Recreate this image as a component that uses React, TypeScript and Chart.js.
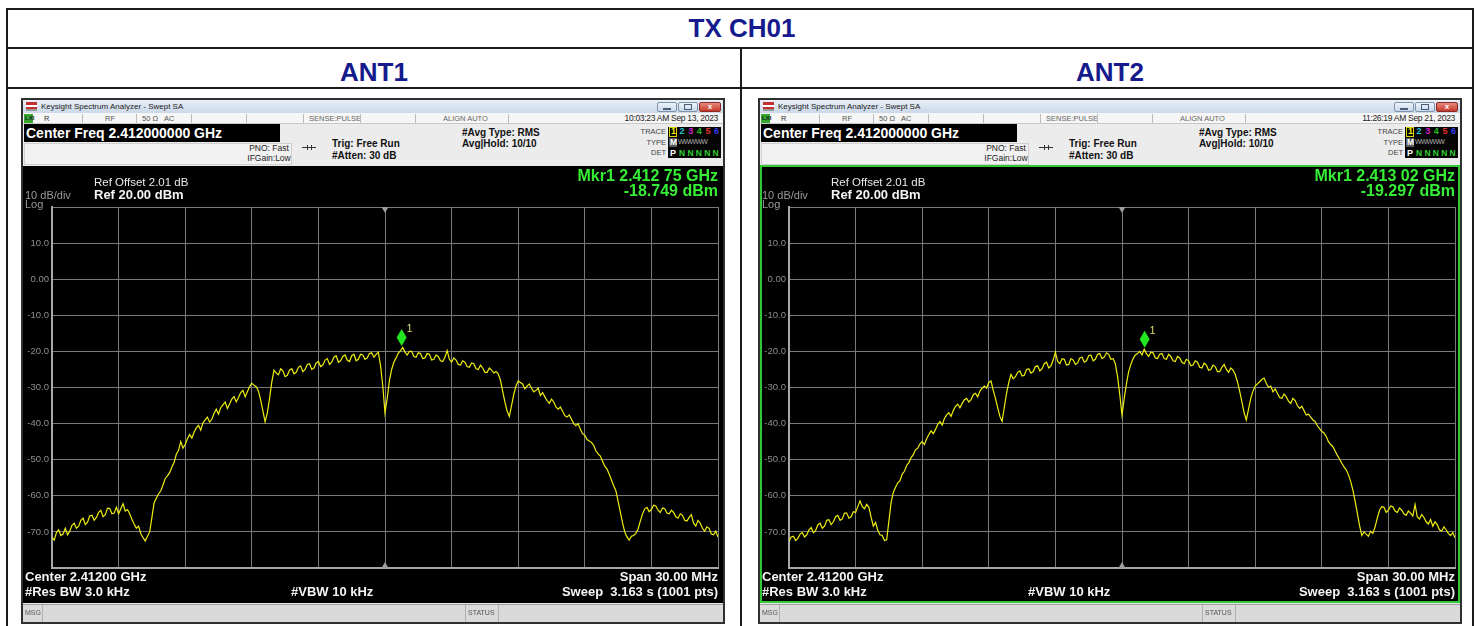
import React, { useEffect, useRef } from "react";
import { Chart, registerables } from "chart.js";
Chart.register(...registerables);

// ---------------- data ----------------
const CENTER_GHZ = 2.412;
const SPAN_START_MHZ = -15; // offset from centre frequency
const SWEEP_STEP_MHZ = 0.1;
const LEVEL_MIN = -80;
const LEVEL_MAX = 20;
const LEVEL_STEP = 10;
const FREQ_GRID_STEP = 3;
const Y_TICK_LABELS = ["", "10.0", "0.00", "-10.0", "-20.0", "-30.0", "-40.0", "-50.0", "-60.0", "-70.0", ""];

// one row = 1 MHz (10 sweep points), from -15 MHz to +15 MHz around the centre
const ANT1_TRACE = [
  -71.5, -72.3, -70.2, -69.4, -71.0, -70.6, -69.0, -70.8, -69.8, -68.2,
  -67.6, -69.0, -68.4, -66.8, -66.2, -68.0, -67.3, -65.6, -65.4, -66.8,
  -66.0, -64.6, -64.0, -65.8, -65.2, -63.4, -63.5, -65.0, -64.8, -63.2,
  -65.0, -63.6, -62.2, -64.2, -63.8, -65.0, -66.5, -67.8, -69.0, -68.4,
  -70.5, -71.6, -72.5, -71.2, -70.0, -66.0, -62.0, -60.6, -59.5, -58.6,
  -57.0, -55.2, -54.5, -53.6, -52.0, -50.8, -48.5, -47.4, -45.0, -46.8,
  -45.8, -44.2, -43.0, -44.0, -42.4, -41.2, -40.5, -41.8, -39.8, -39.0,
  -38.2, -39.6, -38.8, -37.2, -36.0, -37.4, -35.6, -34.8, -34.0, -35.8,
  -34.6, -33.2, -32.5, -34.0, -32.8, -31.4, -30.8, -32.6, -31.2, -29.8,
  -28.8, -29.4, -29.8, -31.0, -33.5, -36.5, -39.5, -37.0, -33.0, -28.5,
  -25.2, -26.0, -26.5, -24.8, -25.4, -27.0, -26.6, -25.2, -24.8, -26.2,
  -25.8, -24.4, -24.0, -25.6, -25.0, -23.6, -23.4, -25.0, -24.6, -23.2,
  -22.8, -24.2, -23.8, -22.4, -22.0, -23.6, -23.0, -21.6, -21.2, -23.0,
  -22.6, -21.4, -21.0, -22.4, -22.8, -21.2, -20.8, -22.6, -22.2, -20.8,
  -21.0, -22.2, -21.8, -20.6, -20.4, -21.6, -20.8, -20.2, -24.0, -29.5,
  -37.0, -33.0, -28.0, -25.0, -23.0, -21.8, -20.5, -19.8, -18.9, -20.2,
  -21.0, -20.0, -20.0, -21.4, -21.6, -20.4, -20.6, -22.0, -21.8, -20.6,
  -20.8, -22.4, -22.2, -21.0, -21.4, -22.6, -22.8, -21.6, -19.8, -22.2,
  -23.0, -21.8, -22.4, -23.6, -23.8, -22.6, -23.0, -24.2, -24.4, -23.2,
  -23.4, -24.8, -25.0, -23.8, -24.6, -25.8, -25.8, -24.6, -25.2, -26.0,
  -25.6, -26.2, -28.0, -31.0, -34.0, -36.5, -38.0, -35.0, -32.0, -29.6,
  -28.2, -28.6, -29.0, -30.4, -29.6, -29.0, -30.2, -31.2, -30.8, -30.2,
  -32.2, -31.4, -32.6, -33.6, -34.4, -33.2, -34.0, -35.4, -36.0, -35.4,
  -36.6, -37.8, -38.2, -37.6, -38.8, -40.0, -40.6, -40.0, -41.6, -42.8,
  -43.2, -44.4, -44.8, -45.2, -46.0, -47.6, -48.4, -49.0, -50.4, -51.8,
  -52.6, -54.0, -55.6, -57.2, -58.6, -61.5, -64.5, -67.5, -70.0, -71.4,
  -72.3, -71.2, -71.0, -70.4, -69.2, -67.0, -65.0, -63.6, -63.2, -64.4,
  -63.8, -62.6, -62.8, -64.0, -64.6, -63.4, -63.6, -64.8, -65.0, -64.0,
  -64.6, -65.8, -66.2, -65.0, -65.4, -66.8, -67.0, -66.0, -65.2, -67.6,
  -68.4, -66.8, -67.6, -69.0, -69.8, -68.6, -69.0, -70.6, -70.8, -69.8,
  -71.4,
];

const ANT2_TRACE = [
  -72.6, -71.4, -71.2, -72.4, -71.8, -70.6, -70.2, -71.4, -70.8, -69.4,
  -68.8, -70.2, -69.6, -68.0, -67.6, -69.0, -68.4, -66.8, -66.6, -68.0,
  -67.2, -65.8, -65.4, -66.8, -66.4, -64.8, -64.8, -66.2, -65.8, -64.4,
  -64.6, -63.0, -61.4, -63.0, -63.6, -62.4, -63.2, -66.0, -68.4, -67.4,
  -69.6, -70.8, -71.0, -72.4, -72.2, -67.0, -61.8, -59.0, -57.6, -56.4,
  -55.8, -54.0, -53.2, -51.6, -50.8, -49.4, -48.6, -47.2, -46.8, -45.6,
  -45.0, -45.8, -44.2, -43.0, -42.0, -42.8, -41.6, -40.2, -39.4, -40.4,
  -38.6, -37.6, -37.0, -38.0, -36.4, -35.2, -34.6, -35.6, -34.4, -33.4,
  -33.0, -34.0, -33.4, -32.0, -31.6, -32.6, -31.0, -30.2, -29.6, -30.2,
  -28.6, -28.2, -30.8, -33.0, -35.6, -38.0, -39.4, -35.4, -31.6, -28.6,
  -26.4, -27.6, -27.0, -25.8, -25.4, -26.8, -26.6, -25.0, -24.8, -26.0,
  -25.6, -24.2, -24.0, -25.4, -24.8, -23.4, -23.0, -24.6, -24.0, -22.4,
  -20.2, -22.8, -23.4, -22.0, -22.2, -23.8, -23.6, -22.0, -22.4, -23.6,
  -23.2, -21.8, -21.6, -23.0, -22.6, -21.2, -21.0, -22.6, -22.2, -20.8,
  -20.6, -22.0, -21.6, -20.4, -20.8, -22.2, -22.0, -23.4, -27.0, -32.0,
  -37.6, -33.0, -29.0, -25.6, -23.6, -22.0, -21.0, -20.6, -20.0, -21.0,
  -19.4, -20.6, -21.4, -20.2, -20.4, -21.8, -22.0, -20.8, -20.6, -22.0,
  -22.2, -20.8, -21.4, -22.6, -22.8, -21.4, -21.8, -23.0, -23.4, -22.2,
  -22.6, -24.0, -23.8, -22.6, -23.0, -24.4, -24.6, -23.2, -23.8, -25.2,
  -25.0, -23.8, -24.2, -25.6, -25.6, -24.4, -23.6, -25.0, -25.8, -24.6,
  -25.2, -26.4, -28.4, -31.0, -34.0, -37.0, -39.0, -36.0, -33.0, -31.0,
  -29.6, -29.0, -28.4, -27.8, -27.4, -28.8, -30.0, -29.6, -31.2, -30.4,
  -31.6, -32.8, -33.0, -31.8, -32.6, -33.8, -34.4, -33.0, -33.6, -35.0,
  -35.8, -35.2, -36.4, -37.6, -37.4, -38.2, -39.0, -39.4, -40.6, -41.4,
  -42.2, -42.6, -43.6, -45.0, -45.8, -46.4, -47.6, -48.8, -49.8, -51.0,
  -52.0, -52.8, -54.2, -56.0, -58.4, -61.5, -64.8, -68.2, -71.0, -70.0,
  -70.6, -71.2, -69.8, -70.4, -68.6, -66.2, -64.0, -63.0, -63.2, -64.6,
  -64.0, -62.8, -63.0, -64.2, -64.6, -63.4, -64.0, -65.0, -65.4, -64.2,
  -64.8, -65.6, -62.4, -65.8, -66.4, -65.2, -66.0, -67.2, -67.8, -66.6,
  -68.4, -67.2, -68.0, -69.4, -69.8, -68.6, -69.4, -70.4, -71.0, -70.2,
  -71.6,
];

const ANT1_MARKER = { freqMHz: 0.75, level: -18.749, label: "Mkr1 2.412 75 GHz", levelText: "-18.749 dBm" };
const ANT2_MARKER = { freqMHz: 1.02, level: -19.297, label: "Mkr1 2.413 02 GHz", levelText: "-19.297 dBm" };
const ANT1_TIME = "10:03:23 AM Sep 13, 2023";
const ANT2_TIME = "11:26:19 AM Sep 21, 2023";

// ---------------- styles ----------------
const SANS = '"Liberation Sans", Arial, sans-serif';
const NAVY = "#151a8c";
const TRACE_COLOR = "#eeee10";
const GRID_COLOR = "#7a7a7a";
const GRID_BORDER = "#a8a8a8";
const MKR_GREEN = "#35ee35";

type TProps = { x: number; y: number; s: number; c?: string; b?: boolean; a?: "l" | "r" | "c"; f?: string; ls?: number; children?: any };
const T = ({ x, y, s, c = "#000", b = false, a = "l", f = SANS, ls = 0, children }: TProps) => (
  <div
    style={{
      position: "absolute",
      left: x,
      top: y - s * 0.6,
      fontSize: s,
      lineHeight: `${s * 1.2}px`,
      fontWeight: b ? 700 : 400,
      color: c,
      fontFamily: f,
      whiteSpace: "nowrap",
      letterSpacing: ls,
      transform: a === "r" ? "translateX(-100%)" : a === "c" ? "translateX(-50%)" : undefined,
    }}
  >
    {children}
  </div>
);

const Box = ({ l, t, w, h, style }: { l: number; t: number; w: number; h: number; style?: any }) => (
  <div style={{ position: "absolute", left: l, top: t, width: w, height: h, boxSizing: "border-box", ...style }} />
);

const markerPlugin = {
  id: "mkr",
  afterDatasetsDraw(chart: any, _args: any, opts: any) {
    const { ctx, chartArea: a, scales } = chart;
    const x = scales.x;
    const y = scales.y;
    const cx = x.getPixelForValue(0);
    ctx.save();
    ctx.fillStyle = "#9c9c9c";
    ctx.beginPath();
    ctx.moveTo(cx - 3.5, a.top);
    ctx.lineTo(cx + 3.5, a.top);
    ctx.lineTo(cx, a.top + 6);
    ctx.closePath();
    ctx.fill();
    ctx.beginPath();
    ctx.moveTo(cx - 3.5, a.bottom);
    ctx.lineTo(cx + 3.5, a.bottom);
    ctx.lineTo(cx, a.bottom - 6);
    ctx.closePath();
    ctx.fill();
    const m = opts.marker;
    if (m) {
      const mx = x.getPixelForValue(m.freqMHz);
      const my = y.getPixelForValue(m.level);
      ctx.fillStyle = "#22e622";
      ctx.beginPath();
      ctx.moveTo(mx, my - 1);
      ctx.lineTo(mx + 5, my - 9.5);
      ctx.lineTo(mx, my - 18);
      ctx.lineTo(mx - 5, my - 9.5);
      ctx.closePath();
      ctx.fill();
      ctx.fillStyle = "#e0e070";
      ctx.font = "10px " + SANS;
      ctx.fillText("1", mx + 5, my - 15);
    }
    ctx.restore();
  },
};

function Spectrum({ values, marker, left, top }: { values: number[]; marker: any; left: number; top: number }) {
  const ref = useRef<HTMLCanvasElement>(null);
  useEffect(() => {
    const pts = values.map((v, i) => ({ x: SPAN_START_MHZ + i * SWEEP_STEP_MHZ, y: v }));
    const chart = new Chart(ref.current as HTMLCanvasElement, {
      type: "line",
      data: {
        datasets: [
          { data: pts, borderColor: TRACE_COLOR, borderWidth: 1.2, pointRadius: 0, tension: 0, fill: false },
        ],
      },
      options: {
        animation: false,
        responsive: false,
        maintainAspectRatio: false,
        events: [],
        layout: { padding: { left: 0, top: 41, right: 5, bottom: 35 } },
        plugins: { legend: { display: false }, tooltip: { enabled: false }, mkr: { marker } } as any,
        scales: {
          x: {
            type: "linear",
            min: SPAN_START_MHZ,
            max: -SPAN_START_MHZ,
            ticks: { display: false, stepSize: FREQ_GRID_STEP },
            grid: { color: GRID_COLOR, drawTicks: false, lineWidth: 1 },
            border: { color: GRID_BORDER, width: 2 },
            afterFit: (s: any) => {
              s.height = 0;
            },
          },
          y: {
            min: LEVEL_MIN,
            max: LEVEL_MAX,
            ticks: {
              stepSize: LEVEL_STEP,
              color: "#8e8e8e",
              font: { size: 9.5, family: SANS },
              padding: 3,
              callback: (v: any) => Y_TICK_LABELS[Math.round((LEVEL_MAX - Number(v)) / LEVEL_STEP)] ?? "",
            },
            grid: { color: GRID_COLOR, drawTicks: false, lineWidth: 1 },
            border: { color: GRID_BORDER, width: 2 },
            afterFit: (s: any) => {
              s.width = 29;
            },
          },
        },
      },
      plugins: [markerPlugin as any],
    });
    return () => chart.destroy();
  }, []);
  return (
    <canvas
      ref={ref}
      width={700}
      height={437}
      style={{ position: "absolute", left, top, width: 700, height: 437 }}
    />
  );
}

function Panel({ px, time, values, marker, green }: { px: number; time: string; values: number[]; marker: any; green?: boolean }) {
  const X = (d: number) => px + d;
  const traceCols = ["#f2f200", "#22c8d8", "#d020d0", "#22c022", "#e03030", "#3a3aee"];
  return (
    <>
      {/* window frame */}
      <Box l={X(0)} t={98} w={704} h={526} style={{ background: "#e4e8ee", border: "2px solid #303030" }} />
      {/* title bar */}
      <Box l={X(2)} t={100} w={700} h={13} style={{ background: "linear-gradient(#e9eff7,#cbd8e8)" }} />
      <Box l={X(5)} t={102} w={11} h={9} style={{ background: "linear-gradient(#c03030 0 30%, #ffffff 30% 55%, #c03030 55% 75%, #999 75%)" }} />
      <T x={X(20)} y={106.5} s={8} c="#1a1a1a">Keysight Spectrum Analyzer - Swept SA</T>
      <Box l={X(636)} t={102} w={20} h={10} style={{ background: "linear-gradient(#eef4fb,#c9d7ea)", border: "1px solid #7f93ad", borderRadius: 2 }} />
      <Box l={X(642)} t={108} w={8} h={2} style={{ background: "#4a5d78" }} />
      <Box l={X(657)} t={102} w={20} h={10} style={{ background: "linear-gradient(#eef4fb,#c9d7ea)", border: "1px solid #7f93ad", borderRadius: 2 }} />
      <Box l={X(663)} t={104} w={8} h={6} style={{ border: "1px solid #4a5d78" }} />
      <Box l={X(678)} t={102} w={22} h={10} style={{ background: "linear-gradient(#e88a7e,#c63a2c)", border: "1px solid #8a2a22", borderRadius: 2 }} />
      <T x={X(689)} y={107} s={8} c="#fff" b a="c">x</T>
      {/* status row */}
      <Box l={X(2)} t={113} w={700} h={11} style={{ background: "#f6f6f6", borderBottom: "1px solid #c8c8c8" }} />
      <Box l={X(3)} t={114} w={9} h={9} style={{ background: "#36a62a" }} />
      <T x={X(4)} y={118.5} s={6} c="#123" b>LXI</T>
      <T x={X(23)} y={118.5} s={7.5} c="#333">R</T>
      <T x={X(84)} y={118.5} s={7.5} c="#555">RF</T>
      <T x={X(121)} y={118.5} s={7.5} c="#555">50 Ω</T>
      <T x={X(143)} y={118.5} s={7.5} c="#555">AC</T>
      <T x={X(288)} y={118.5} s={7.5} c="#666">SENSE:PULSE</T>
      <T x={X(422)} y={118.5} s={7.5} c="#666">ALIGN AUTO</T>
      <T x={X(697)} y={118.5} s={8.5} c="#222" a="r" ls={-0.3}>{time}</T>
      {[61, 115, 170, 225, 282, 339, 394, 487].map((d) => (
        <Box key={d} l={X(d)} t={114} w={1} h={9} style={{ background: "#bcbcbc" }} />
      ))}
      {/* control area */}
      <Box l={X(2)} t={124} w={700} h={42} style={{ background: "#ececec" }} />
      <Box l={X(3)} t={143} w={268} h={22} style={{ background: "#f1f1f1", border: "1px solid #d0d0d0" }} />
      <Box l={X(3)} t={124} w={256} h={18} style={{ background: "#000" }} />
      <T x={X(5)} y={133.5} s={14} c="#fff" b>Center Freq 2.412000000 GHz</T>
      <T x={X(248)} y={148} s={8.5} c="#222" a="c">PNO: Fast</T>
      <T x={X(248)} y={158} s={8.5} c="#222" a="c">IFGain:Low</T>
      <Box l={X(281)} t={147} w={14} h={1} style={{ background: "#333" }} />
      <Box l={X(286)} t={145} w={1} h={5} style={{ background: "#333" }} />
      <Box l={X(290)} t={145} w={1} h={5} style={{ background: "#333" }} />
      <T x={X(311)} y={144} s={10} c="#111" b>Trig: Free Run</T>
      <T x={X(311)} y={156} s={10} c="#111" b>#Atten: 30 dB</T>
      <T x={X(441)} y={132.5} s={10} c="#111" b>#Avg Type: RMS</T>
      <T x={X(441)} y={143.5} s={10} c="#111" b>Avg|Hold: 10/10</T>
      <T x={X(645)} y={131} s={7.5} c="#444" a="r">TRACE</T>
      <T x={X(645)} y={142} s={7.5} c="#444" a="r">TYPE</T>
      <T x={X(645)} y={152.5} s={7.5} c="#444" a="r">DET</T>
      <Box l={X(647)} t={127} w={53} h={31} style={{ background: "#050505" }} />
      <Box l={X(648)} t={127} w={8} h={10} style={{ border: "1px solid #d6d600" }} />
      {traceCols.map((c, i) => (
        <T key={"t" + i} x={X(650 + i * 8.6)} y={131.5} s={9} c={c} b>{String(i + 1)}</T>
      ))}
      <Box l={X(648)} t={138} w={8} h={9} style={{ background: "#5a5a5a" }} />
      <T x={X(649)} y={142.5} s={8.5} c="#fff" b>M</T>
      <T x={X(657)} y={142.5} s={7} c="#aaa" ls={-0.8}>WWWWW</T>
      <T x={X(649)} y={153} s={9} c="#fff" b>P</T>
      {[0, 1, 2, 3, 4].map((i) => (
        <T key={"n" + i} x={X(658 + i * 8.4)} y={153} s={8.5} c="#30d030" b>N</T>
      ))}
      {/* display */}
      <Box l={X(2)} t={166} w={700} h={437} style={{ background: "#000" }} />
      <Spectrum values={values} marker={marker} left={X(2)} top={166} />
      {green && <Box l={X(2)} t={165} w={700} h={438} style={{ border: "2px solid #33c733" }} />}
      <T x={X(73)} y={183} s={11.5} c="#e8e8e8">Ref Offset 2.01 dB</T>
      <T x={X(73)} y={195} s={13} c="#f4f4f4" b>Ref 20.00 dBm</T>
      <T x={X(4)} y={196} s={11} c="#9a9a9a">10 dB/div</T>
      <T x={X(4)} y={205} s={11} c="#9a9a9a">Log</T>
      <T x={X(697)} y={176} s={16} c={MKR_GREEN} b a="r">{marker.label}</T>
      <T x={X(697)} y={191} s={16} c={MKR_GREEN} b a="r">{marker.levelText}</T>
      <T x={X(4)} y={577} s={13} c="#f4f4f4" b>{`Center ${CENTER_GHZ.toFixed(5)} GHz`}</T>
      <T x={X(4)} y={592} s={13} c="#f4f4f4" b>#Res BW 3.0 kHz</T>
      <T x={X(270)} y={592} s={13} c="#f4f4f4" b>#VBW 10 kHz</T>
      <T x={X(697)} y={577} s={13} c="#f4f4f4" b a="r">Span 30.00 MHz</T>
      <T x={X(697)} y={592} s={13} c="#f4f4f4" b a="r">{"Sweep\u00a0\u00a03.163 s (1001 pts)"}</T>
      {/* msg bar */}
      <Box l={X(2)} t={604} w={700} h={18} style={{ background: "#dadada", borderTop: "1px solid #a0a0a0" }} />
      <T x={X(4)} y={613} s={7} c="#555">MSG</T>
      <Box l={X(21)} t={605} w={1} h={17} style={{ background: "#b0b0b0" }} />
      <Box l={X(444)} t={605} w={1} h={17} style={{ background: "#b0b0b0" }} />
      <T x={X(447)} y={613} s={7} c="#555">STATUS</T>
      <Box l={X(477)} t={605} w={1} h={17} style={{ background: "#b0b0b0" }} />
    </>
  );
}

export default function App() {
  const line = "#1b1b1b";
  return (
    <div style={{ position: "absolute", left: 0, top: 0, width: 1475, height: 626, background: "#fff", overflow: "hidden" }}>
      {/* table grid */}
      <Box l={6} t={8} w={1468} h={2} style={{ background: line }} />
      <Box l={6} t={47} w={1468} h={2} style={{ background: line }} />
      <Box l={6} t={87} w={1468} h={2} style={{ background: line }} />
      <Box l={6} t={8} w={2} h={618} style={{ background: line }} />
      <Box l={740} t={47} w={2} h={579} style={{ background: line }} />
      <Box l={1472} t={8} w={2} h={618} style={{ background: line }} />
      <T x={742} y={29} s={26} c={NAVY} b a="c">TX CH01</T>
      <T x={374} y={73} s={26} c={NAVY} b a="c">ANT1</T>
      <T x={1110} y={73} s={26} c={NAVY} b a="c">ANT2</T>
      <Panel px={21} time={ANT1_TIME} values={ANT1_TRACE} marker={ANT1_MARKER} />
      <Panel px={758} time={ANT2_TIME} values={ANT2_TRACE} marker={ANT2_MARKER} green />
    </div>
  );
}
